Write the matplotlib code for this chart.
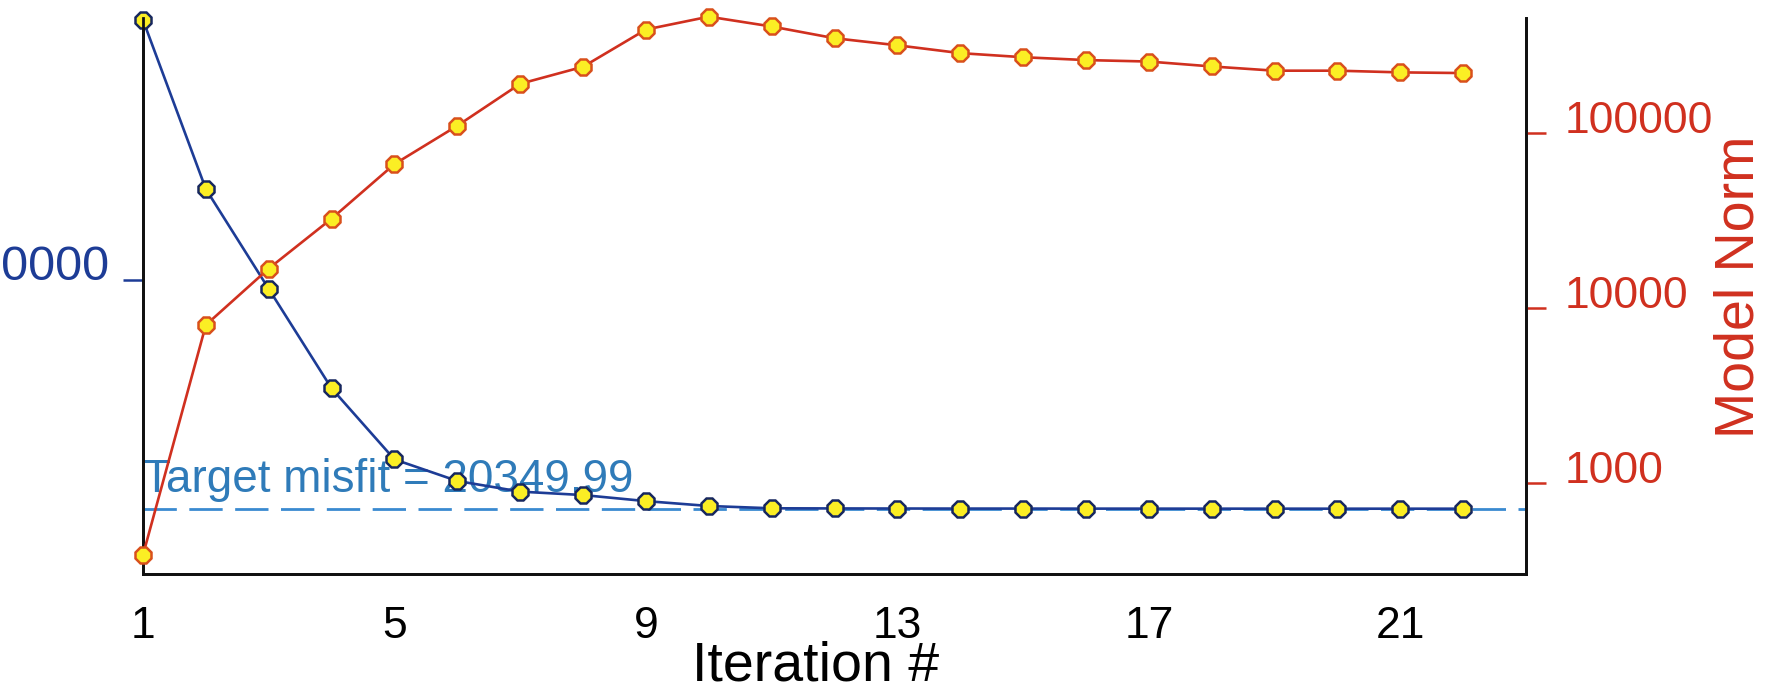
import numpy as np
import matplotlib.pyplot as plt
from matplotlib.ticker import NullLocator

plt.rcParams['font.family'] = ['Liberation Sans', 'DejaVu Sans']

# iteration numbers
iterations = list(range(1, 23))

# data misfit (left axis, linear)
misfit = [190400, 131600, 96900, 62300, 37600, 30100, 26400, 25200, 23100, 21400,
          20600, 20550, 20520, 20500, 20500, 20480, 20480, 20470, 20470, 20460,
          20460, 20460]

# model norm (right axis, log)
model_norm = [388, 8000, 16800, 32400, 66400, 110000, 191000, 239000, 390000, 462000,
              406000, 348000, 317000, 286000, 271000, 261000, 256000, 240000, 227000, 227000,
              222000, 220000]

target_misfit = 20349.99
x_ticks = [1, 5, 9, 13, 17, 21]
left_ticks = [100000]
right_ticks = [1000, 10000, 100000]

blue = '#1d3c96'
red = '#d0301f'
light_blue = '#3a8ad0'
yellow = '#fbee24'

fig = plt.figure(figsize=(17.76, 6.87), dpi=100)
ax = fig.add_axes([143 / 1776, 113 / 687, 1383 / 1776, 556 / 687])
ax2 = ax.twinx()

# misfit curve
ax.plot(iterations, misfit, '-', color=blue, lw=1.9, marker='8', markersize=13,
        markerfacecolor=yellow, markeredgecolor='#17275e', markeredgewidth=1.8,
        zorder=3, clip_on=False)
ax.axhline(target_misfit, color=light_blue, lw=2.0, ls=(0, (12, 4.5)), zorder=2)
ax.annotate('Target misfit = %.2f' % target_misfit, xy=(1, target_misfit),
            xytext=(0, 12), textcoords='offset points', ha='left', va='baseline',
            fontsize=33, color='#2f7bb9', zorder=1)

# model norm curve
ax2.plot(iterations, model_norm, '-', color=red, lw=1.9, marker='8', markersize=13,
         markerfacecolor=yellow, markeredgecolor='#d9501c', markeredgewidth=1.8,
         zorder=3, clip_on=False)
ax2.set_yscale('log')

ax.set_xlim(1, 23)
ax.set_ylim(-2250, 191100)
ax2.set_ylim(302, 454000)

ax.set_xticks(x_ticks)
ax.tick_params(axis='x', length=0, pad=23, labelsize=32, colors='black')
ax.set_xlabel('Iteration #', fontsize=40, va='baseline')
ax.xaxis.set_label_coords(0.4866, -0.192)

ax.set_yticks(left_ticks, labels=[str(v) for v in left_ticks])
ax.tick_params(axis='y', length=14.4, width=1.8, color=blue, labelcolor=blue,
               labelsize=35, pad=9.5)
plt.setp(ax.get_yticklabels(), va='baseline')

ax2.set_yticks(right_ticks, labels=[str(v) for v in right_ticks])
ax2.yaxis.set_minor_locator(NullLocator())
ax2.tick_params(axis='y', length=14.4, width=1.8, color=red, labelcolor=red,
                labelsize=32, pad=13.5)
plt.setp(ax2.get_yticklabels(), va='baseline')
ax2.set_ylabel('Model Norm', fontsize=40, color=red, va='center', ha='center')
ax2.yaxis.set_label_coords(1.1547, 0.517)

for a in (ax, ax2):
    a.spines['top'].set_visible(False)
    for s in ('left', 'right', 'bottom'):
        a.spines[s].set_linewidth(2.0)
        a.spines[s].set_color('#111111')

plt.savefig('out.png', dpi=100)
plt.close()
